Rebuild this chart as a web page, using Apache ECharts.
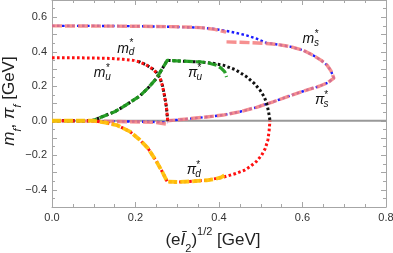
<!DOCTYPE html>
<html><head><meta charset="utf-8">
<script src="https://cdn.jsdelivr.net/npm/echarts@6/dist/echarts.min.js"></script>
<style>html,body{margin:0;padding:0;background:#fff}#c{width:393px;height:253px}</style>
</head><body><div id="c"></div>
<script>
// ---- data (x = (e I2)^{1/2} [GeV], y = GeV) ----
const xRange = [0, 0.8];
const yRange = [-0.5, 0.7];
const zeroLine = [[0, 0], [0.8, 0]];
// solution 1 (dotted)
const mD1 = [[0,0.365],[0.05,0.365],[0.1,0.364],[0.14,0.361],[0.17,0.356],[0.195,0.35],[0.21,0.341],[0.225,0.325],[0.24,0.302],[0.25,0.28],[0.259,0.247],[0.265,0.2],[0.27,0.139],[0.274,0.08],[0.276,0.03],[0.277,0]];
const mU1 = [[0.2,0.347],[0.21,0.341],[0.225,0.325],[0.24,0.302],[0.25,0.28],[0.259,0.247],[0.265,0.2],[0.27,0.139],[0.274,0.08],[0.276,0.03],[0.277,0]];
const piU1 = [[0,0],[0.08,0],[0.1,0.003],[0.122,0.025],[0.15,0.052],[0.17,0.08],[0.194,0.118],[0.21,0.143],[0.23,0.19],[0.25,0.245],[0.265,0.305],[0.276,0.35],[0.31,0.346],[0.355,0.34],[0.385,0.333],[0.41,0.322],[0.44,0.295],[0.466,0.255],[0.485,0.215],[0.498,0.178],[0.508,0.14],[0.514,0.103],[0.518,0.06],[0.521,0.02],[0.522,0]];
const piD1 = [[0,0],[0.1,0],[0.125,-0.01],[0.155,-0.025],[0.187,-0.063],[0.21,-0.11],[0.23,-0.16],[0.25,-0.235],[0.265,-0.3],[0.276,-0.353],[0.3,-0.355],[0.33,-0.352],[0.37,-0.345],[0.41,-0.327],[0.44,-0.306],[0.46,-0.288],[0.475,-0.265],[0.49,-0.235],[0.502,-0.2],[0.511,-0.16],[0.517,-0.112],[0.52,-0.06],[0.522,0]];
const mS1 = [[0,0.55],[0.1,0.55],[0.2,0.548],[0.28,0.545],[0.355,0.54],[0.39,0.532],[0.41,0.524],[0.44,0.51],[0.466,0.495],[0.49,0.476],[0.514,0.451],[0.54,0.442],[0.57,0.43],[0.6,0.41],[0.625,0.38],[0.645,0.35],[0.659,0.322],[0.668,0.29],[0.675,0.247]];
const piS1 = [[0.675,0.247],[0.66,0.22],[0.64,0.2],[0.61,0.178],[0.57,0.145],[0.53,0.11],[0.49,0.078],[0.45,0.052],[0.41,0.033],[0.37,0.022],[0.33,0.012],[0.3,0.005],[0.276,0]];
const piS1near = [[0,0],[0.15,-0.003],[0.25,-0.007],[0.276,-0.01]];
// solution 2 (dashed)
const piU2 = [[0,0],[0.08,0],[0.1,0.003],[0.122,0.025],[0.15,0.052],[0.17,0.08],[0.194,0.118],[0.21,0.143],[0.23,0.19],[0.25,0.245],[0.265,0.305],[0.276,0.35],[0.31,0.346],[0.355,0.341],[0.375,0.335],[0.394,0.322],[0.405,0.305],[0.414,0.283],[0.418,0.254]];
const piD2 = [[0,0],[0.1,0],[0.125,-0.01],[0.155,-0.025],[0.187,-0.063],[0.21,-0.11],[0.23,-0.16],[0.25,-0.235],[0.265,-0.3],[0.276,-0.353],[0.3,-0.355],[0.33,-0.352],[0.37,-0.345],[0.39,-0.338],[0.405,-0.328],[0.418,-0.31]];
const mS2a = [[0,0.55],[0.2,0.548],[0.3,0.545],[0.355,0.54],[0.39,0.53],[0.417,0.514]];
const mS2b = [[0.418,0.457],[0.45,0.455],[0.48,0.452],[0.514,0.448],[0.54,0.442],[0.57,0.43],[0.6,0.41],[0.625,0.38],[0.645,0.35],[0.659,0.322],[0.668,0.29],[0.675,0.247]];
const piS2near = [[0,0],[0.15,-0.004],[0.25,-0.01],[0.276,-0.02]];
// curve labels: [main, subscript, x(data), y(data)]
const curveLabels = [['m','d',0.156,0.418],['m','u',0.1,0.275],['π','u',0.326,0.275],['m','s',0.6,0.473],['π','s',0.63,0.12],['π','d',0.323,-0.285]];

const FONT = '"Liberation Sans", Arial, sans-serif';
const GRAY = '#a6a6a6';
const chart = echarts.init(document.getElementById('c'), null, {renderer:'canvas'});

function ln(data, color, width, type, z, opacity, offset) {
  return {type:'line', data, showSymbol:false, symbol:'none', silent:true, z,
    lineStyle:{color, width, type, cap:'butt', join:'round', opacity: opacity==null?1:opacity, dashOffset: offset||0},
    animation:false};
}
const DOT = [2.6, 2.4];
const DASH = [9, 3];
const series = [
  ln(zeroLine, '#999999', 2, 'solid', 1),
  ln(piS1near, '#1a1aff', 2.4, DOT, 2),
  ln(mS1.concat(piS1.slice(1)), '#1a1aff', 2.4, DOT, 2),
  ln(mS2a, '#f47c7c', 3.4, [10,3], 3, 0.85),
  ln(piS2near, '#f47c7c', 3.4, [10,3], 3, 0.85),
  ln(mS2b.concat(piS1.slice(1)), '#f47c7c', 3.4, [10,3], 3, 0.85),
  ln(mU1, '#111111', 3, DOT, 4, 1, 2.5),
  ln(piU1, '#111111', 3, DOT, 4),
  ln(mD1, '#ff1010', 3, DOT, 5),
  ln(piD1, '#ff1010', 3, DOT, 5),
  ln(piU2, '#1e9a1e', 3.2, DASH, 6, 0.95),
  ln(piD2, '#ffc20a', 3.8, DASH, 6, 0.95)
];

const axCommon = {
  axisLine:{show:true, onZero:false, lineStyle:{color:GRAY, width:1}},
  axisTick:{show:true, inside:true, length:5, lineStyle:{color:GRAY}},
  minorTick:{show:true, length:3, lineStyle:{color:GRAY}},
  splitLine:{show:false}
};
const axLabel = {fontFamily:FONT, fontSize:11, color:'#333'};
const fmt1 = v => (v < 0 ? '\u2212' : '') + Math.abs(v).toFixed(1);

const titleRich = {
  a:{fontFamily:FONT, fontSize:17, color:'#222', lineHeight:28},
  i:{fontFamily:FONT, fontSize:17, fontStyle:'italic', color:'#222', lineHeight:28},
  b:{fontFamily:FONT, fontSize:11, color:'#222', verticalAlign:'bottom', lineHeight:11},
  bi:{fontFamily:FONT, fontSize:11, fontStyle:'italic', color:'#222', verticalAlign:'bottom', lineHeight:11},
  c:{fontFamily:FONT, fontSize:11, color:'#222', verticalAlign:'top', lineHeight:11}
};

const option = {
  backgroundColor:'#fff',
  animation:false,
  grid:{left:52, right:7, top:0, bottom:46, outerBoundsMode:'none', containLabel:false},
  xAxis:[
    Object.assign({type:'value', min:xRange[0], max:xRange[1], interval:0.2, position:'bottom',
      minorTick:Object.assign({}, axCommon.minorTick, {splitNumber:4}),
      axisLabel:Object.assign({margin:5, formatter:fmt1}, axLabel),
      name:'{a|(e}{i|Ī}{b|2}{a|)}{c|1/2}{a| [GeV]}', nameLocation:'middle', nameGap:19, nameMoveOverlap:false,
      nameTextStyle:{rich:titleRich, padding:[0,12,0,0]}}, {axisLine:axCommon.axisLine, axisTick:axCommon.axisTick, splitLine:axCommon.splitLine}),
    Object.assign({type:'value', min:xRange[0], max:xRange[1], interval:0.2, position:'top',
      minorTick:Object.assign({}, axCommon.minorTick, {splitNumber:4}),
      axisLabel:{show:false}}, {axisLine:axCommon.axisLine, axisTick:axCommon.axisTick, splitLine:axCommon.splitLine})
  ],
  yAxis:[
    Object.assign({type:'value', min:yRange[0], max:yRange[1], interval:0.1, position:'left',
      minorTick:Object.assign({}, axCommon.minorTick, {splitNumber:2}),
      axisLabel:Object.assign({margin:5, formatter:v => (Math.abs(Math.round(v*10)) % 2 === 0 ? fmt1(Math.round(v*10)/10) : '')}, axLabel),
      name:'{i|m}{bi|f}{a|, }{i|π}{bi|f}{a| [GeV]}', nameLocation:'middle', nameGap:29, nameRotate:90, nameMoveOverlap:false,
      nameTextStyle:{rich:titleRich, padding:[0,0,0,5]}}, {axisLine:axCommon.axisLine, axisTick:axCommon.axisTick, splitLine:axCommon.splitLine}),
    Object.assign({type:'value', min:yRange[0], max:yRange[1], interval:0.1, position:'right',
      minorTick:Object.assign({}, axCommon.minorTick, {splitNumber:2}),
      axisLabel:{show:false}}, {axisLine:axCommon.axisLine, axisTick:axCommon.axisTick, splitLine:axCommon.splitLine})
  ],
  series: series
};
chart.setOption(option);

// curve labels placed via the chart's own coordinate conversion
const gfx = [];
curveLabels.forEach(([main, sub, x, y]) => {
  const p = chart.convertToPixel({gridIndex:0}, [x, y]);
  const mw = main === 'm' ? 11.5 : 8.5;
  gfx.push({type:'text', x:p[0], y:p[1], z:20, silent:true,
    style:{text:main, font:'italic 14px ' + FONT, fill:'#111', verticalAlign:'middle', align:'left'}});
  gfx.push({type:'text', x:p[0]+mw, y:p[1]+4, z:20, silent:true,
    style:{text:sub, font:'italic 10px ' + FONT, fill:'#111', verticalAlign:'middle', align:'left'}});
  gfx.push({type:'text', x:p[0]+mw+0.8, y:p[1]-5, z:20, silent:true,
    style:{text:'*', font:'10px ' + FONT, fill:'#111', verticalAlign:'middle', align:'left'}});
});
chart.setOption({graphic:gfx});
</script>
</body></html>
